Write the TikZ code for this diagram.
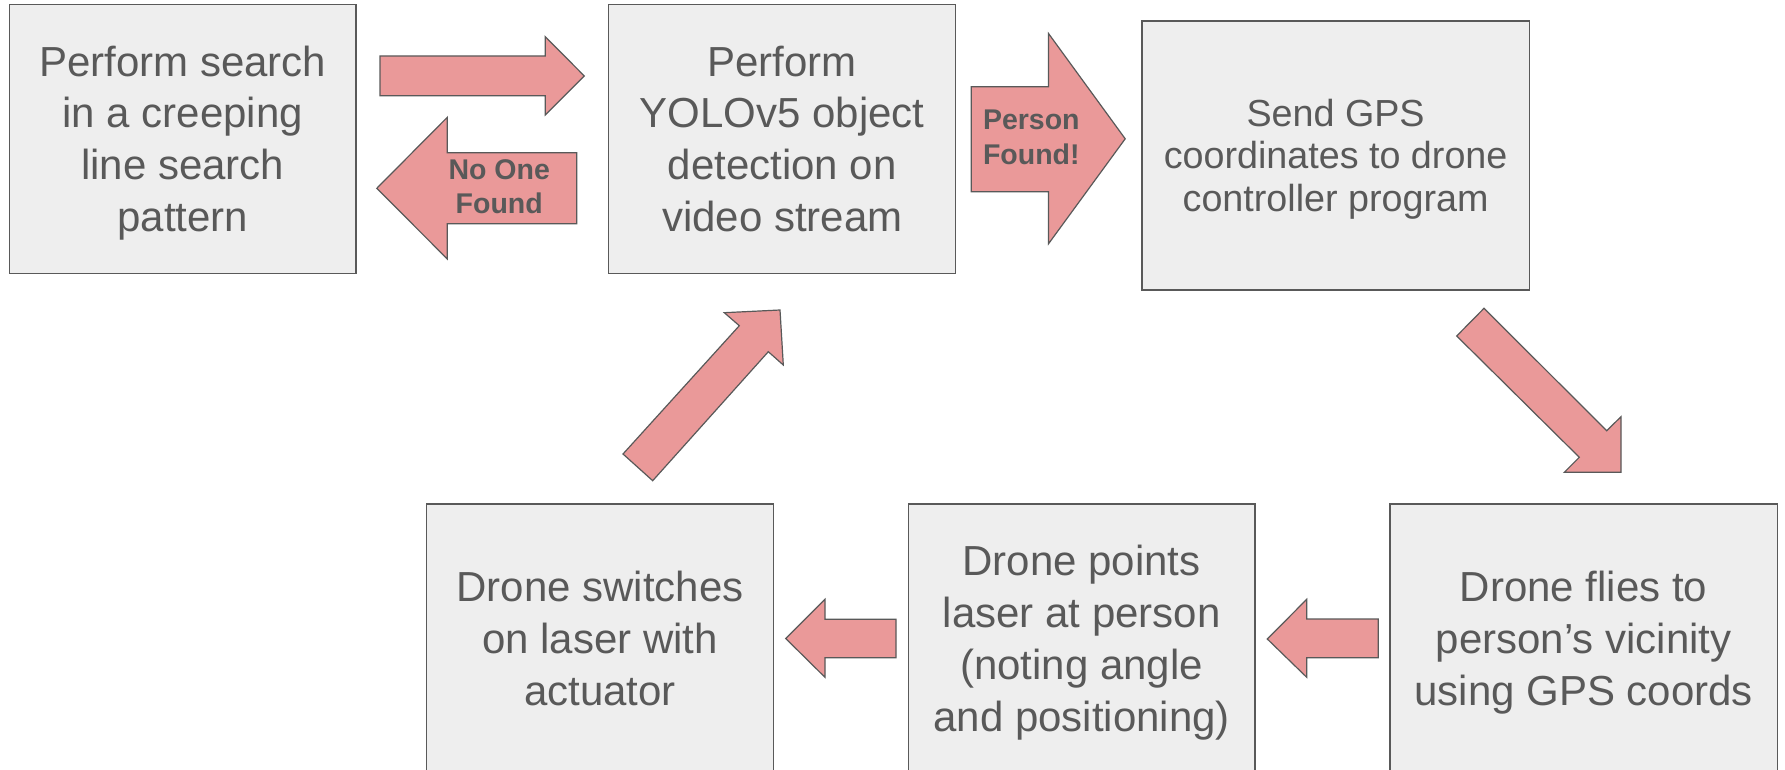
\documentclass[tikz,border=0pt]{standalone}
\usepackage{fontspec}
\setmainfont{Liberation Sans}
\definecolor{boxfill}{HTML}{EEEEEE}
\definecolor{inkgray}{HTML}{595959}
\definecolor{arrowfill}{HTML}{EA9999}
% struts that make a text block's centre fall between cap top and last baseline
\newcommand{\boxtop}{\rule{0pt}{0.95em}}
\newcommand{\boxbot}{\rule[-0.234em]{0pt}{0.234em}}
\tikzset{
  stepbox/.style={draw=inkgray, fill=boxfill, line width=1.3pt, inner sep=0pt,
    align=center, text=inkgray, font={\fontsize{42}{51.8}\selectfont}},
  blockarrow/.style={draw=inkgray, fill=arrowfill, line width=1.2pt, line join=miter},
  arrowtext/.style={inner sep=0pt, align=center, text=inkgray,
    font={\bfseries\fontsize{28.5}{34.5}\selectfont}}
}
\begin{document}
\begin{tikzpicture}[x=1pt, y=-1pt]
\useasboundingbox (0,0) rectangle (1785,770);
\clip (0,0) rectangle (1785,770);

% process steps
\node[stepbox, minimum width=346.3pt, minimum height=269pt] (search) at (182.75,138.8)
  {\boxtop Perform search\\in a creeping\\line search\\pattern\boxbot};
\node[stepbox, minimum width=347.1pt, minimum height=269pt] (detect) at (782.25,138.8)
  {\boxtop Perform\\YOLOv5 object\\detection on\\video stream\boxbot};
\node[stepbox, minimum width=387.2pt, minimum height=269pt,
      font={\fontsize{37.7}{42.3}\selectfont}] (gps) at (1335.6,155.5)
  {\boxtop Send GPS\\coordinates to drone\\controller program\boxbot};
\node[stepbox, minimum width=387.3pt, minimum height=269pt] (fly) at (1583.65,638.5)
  {\boxtop Drone flies to\\person’s vicinity\\using GPS coords\boxbot};
\node[stepbox, minimum width=346.7pt, minimum height=269pt] (point) at (1081.65,638.5)
  {\boxtop Drone points\\laser at person\\(noting angle\\and positioning)\boxbot};
\node[stepbox, minimum width=346.6pt, minimum height=269pt] (laser) at (600,638.5)
  {\boxtop Drone switches\\on laser with\\actuator\boxbot};

% block arrows between the steps
\draw[blockarrow] (380,56) -- (545.3,56) -- (545.3,36.7) -- (584.3,76)
  -- (545.3,115) -- (545.3,95.7) -- (380,95.7) -- cycle;
\draw[blockarrow] (576.7,152.7) -- (447.3,152.7) -- (447.3,117.3) -- (376.8,188.3)
  -- (447.3,259) -- (447.3,223.8) -- (576.7,223.8) -- cycle;
\draw[blockarrow] (971.3,86.7) -- (1048.5,86.7) -- (1048.5,33.5) -- (1125.2,138.8)
  -- (1048.5,243.8) -- (1048.5,191.7) -- (971.3,191.7) -- cycle;
\draw[blockarrow] (1484,308.3) -- (1606.7,430.7) -- (1621,416.7) -- (1621,472.3)
  -- (1564.3,472.3) -- (1579.3,457.3) -- (1456.7,336) -- cycle;
\draw[blockarrow] (1378.3,619) -- (1306.7,619) -- (1306.7,599.3) -- (1267.3,639)
  -- (1306.7,677.3) -- (1306.7,657.7) -- (1378.3,657.7) -- cycle;
\draw[blockarrow] (896,619.3) -- (825,619.3) -- (825,599.3) -- (785.7,638.5)
  -- (825,677.3) -- (825,657.7) -- (896,657.7) -- cycle;
\draw[blockarrow] (623,454) -- (739.3,325.7) -- (724.3,312.7) -- (780,310)
  -- (783.3,365) -- (768.3,351.7) -- (652.7,480.7) -- cycle;

% arrow labels
\node[arrowtext] (noone) at (499.2,186.7) {No One\\Found};
\node[arrowtext] (found) at (1031.3,137.2) {Person\\Found!};
\end{tikzpicture}
\end{document}
